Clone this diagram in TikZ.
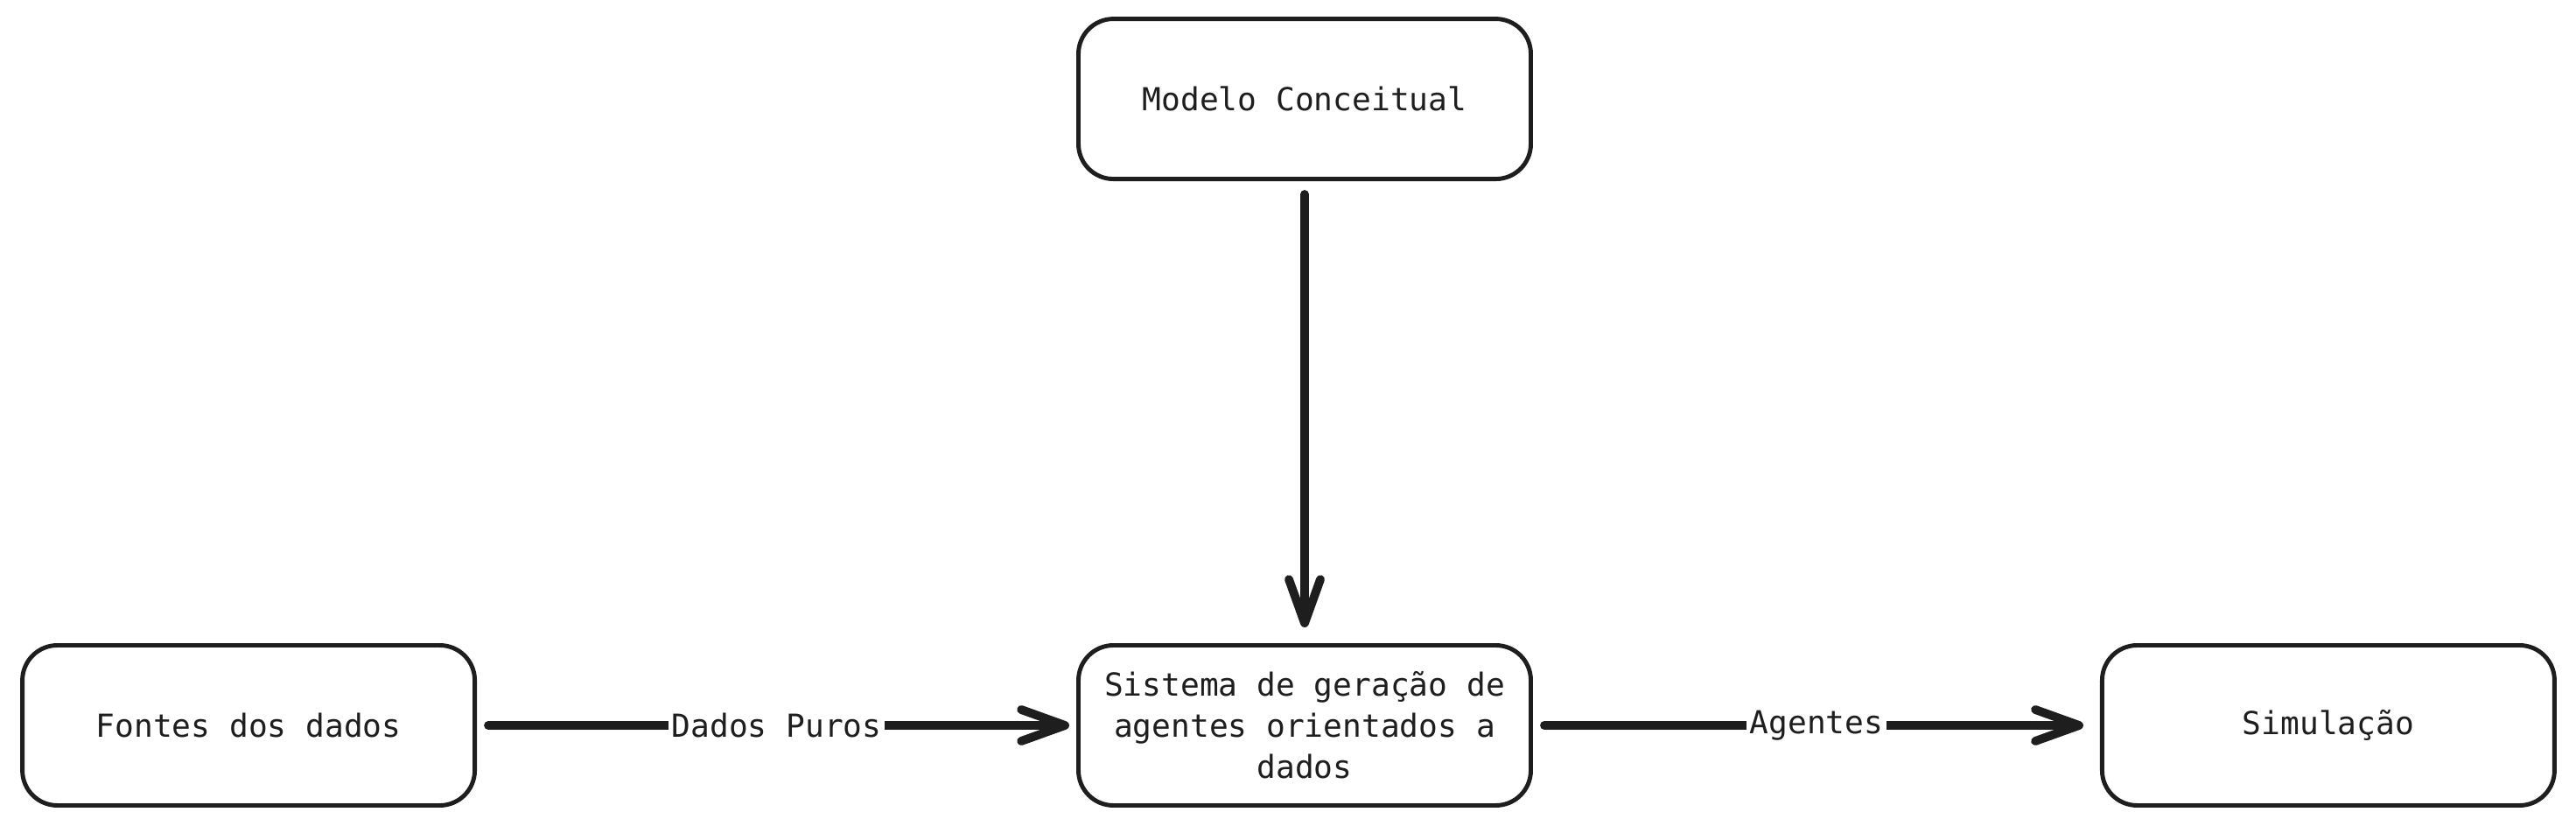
\documentclass[tikz,border=0pt]{standalone}
\usepackage{fontspec}
\setmonofont{DejaVu Sans Mono}
\usepackage{xcolor}
\usetikzlibrary{arrows.meta,calc,positioning}
\definecolor{ink}{HTML}{1E1E1E}
\tikzset{
	block/.style = {draw=ink, rectangle, rounded corners=0.4cm,
		line width=1.4pt,
		minimum height=1.83cm,
		minimum width=5.17cm},
	arrow/.style={draw=ink, line width=2.8pt, line cap=round,
		-{Straight Barb[length=5mm,width=3.6mm,round]}},
	edgelabel/.style = {fill=white, inner sep=1pt, text=ink},
}

\begin{document}
\begin{tikzpicture}[
	every node/.style={font=\ttfamily\fontsize{10.3}{13.4}\selectfont},
	boxnode/.style={block, align=center, text=ink},
	]
	\useasboundingbox (0,0) rectangle (29.44,9.44);
	%Nodes
	\node[boxnode]      (sistema)   at (14.91,1.15)               {Sistema de geração de\\agentes orientados a\\dados};
	\node[boxnode]      (modelo)    [above=5.28cm of sistema]     {Modelo Conceitual};
	\node[boxnode]      (fontes)    [left=6.85cm of sistema]      {Fontes dos dados};
	\node[boxnode]      (simulacao) [right=6.48cm of sistema]     {Simulação};
%	%Lines
	\draw[arrow, shorten <=0.15cm, shorten >=0.18cm] (modelo.south) -- (sistema.north);
	\draw[arrow, shorten <=0.13cm, shorten >=0.08cm] (fontes.east) -- node[edgelabel] {Dados Puros} (sistema.west);
	\draw[arrow, shorten <=0.13cm, shorten >=0.19cm] (sistema.east) -- node[edgelabel] {Agentes} (simulacao.west);

\end{tikzpicture}
\end{document}
